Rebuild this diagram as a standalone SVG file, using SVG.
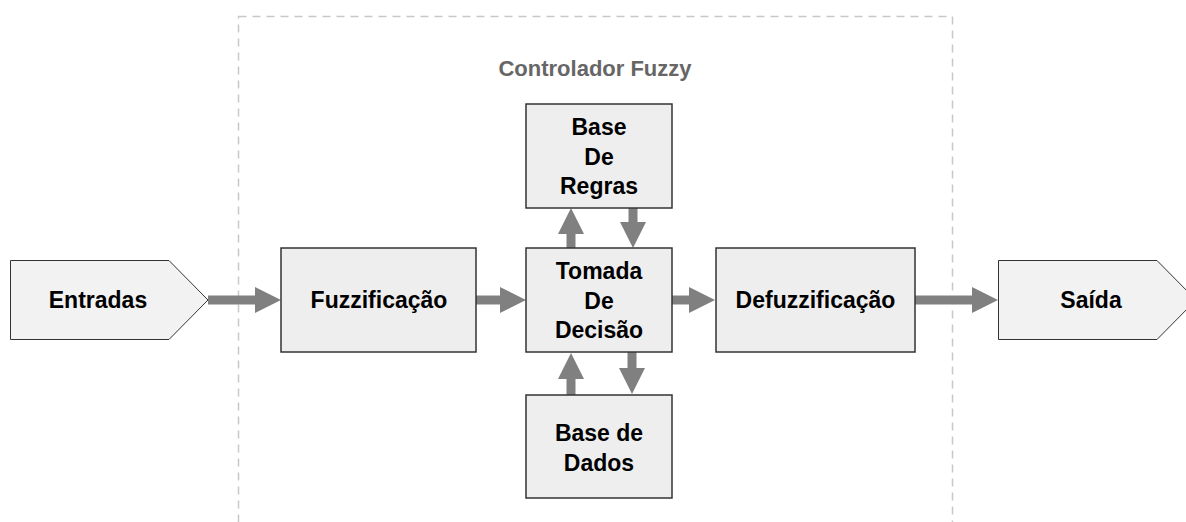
<svg xmlns="http://www.w3.org/2000/svg" width="1186" height="522" viewBox="0 0 1186 522">
  <style>
    .box { fill: #eeeeee; stroke: #333333; stroke-width: 1.5; }
    .io { fill: #f2f2f2; stroke: #333333; stroke-width: 1; }
    .label { font-family: "Liberation Sans", Arial, sans-serif; font-size: 23px; font-weight: bold; fill: #000000; text-anchor: middle; }
    .title { font-family: "Liberation Sans", Arial, sans-serif; font-size: 22px; font-weight: bold; fill: #666666; text-anchor: middle; }
    .frame { fill: none; stroke: #c8c8c8; stroke-width: 1.5; stroke-dasharray: 8 6; }
    .flow { stroke: #808080; stroke-width: 9; fill: none; }
    .head { fill: #808080; }
  </style>

  <!-- controller boundary -->
  <g id="controlador">
    <rect class="frame" x="238.5" y="16.5" width="714" height="540"/>
    <text class="title" x="595" y="76">Controlador Fuzzy</text>
  </g>

  <!-- connectors -->
  <g id="connectors">
    <!-- Entradas -> Fuzzificação -->
    <line class="flow" x1="208" y1="300" x2="257" y2="300"/>
    <polygon class="head" points="255,287 281,300 255,313"/>
    <!-- Fuzzificação -> Tomada de Decisão -->
    <line class="flow" x1="476" y1="300" x2="502" y2="300"/>
    <polygon class="head" points="500,287 526,300 500,313"/>
    <!-- Tomada de Decisão -> Defuzzificação -->
    <line class="flow" x1="672" y1="300" x2="691" y2="300"/>
    <polygon class="head" points="689,287 715,300 689,313"/>
    <!-- Defuzzificação -> Saída -->
    <line class="flow" x1="915" y1="300" x2="974" y2="300"/>
    <polygon class="head" points="972,287 998,300 972,313"/>
    <!-- Tomada -> Base de Regras -->
    <line class="flow" x1="571" y1="248" x2="571" y2="232"/>
    <polygon class="head" points="558,234 571,208 584,234"/>
    <!-- Base de Regras -> Tomada -->
    <line class="flow" x1="633" y1="208" x2="633" y2="224"/>
    <polygon class="head" points="620,222 633,248 646,222"/>
    <!-- Base de Dados -> Tomada -->
    <line class="flow" x1="571" y1="395" x2="571" y2="377"/>
    <polygon class="head" points="558,379 571,353 584,379"/>
    <!-- Tomada -> Base de Dados -->
    <line class="flow" x1="632" y1="352" x2="632" y2="370"/>
    <polygon class="head" points="619,368 632,394 645,368"/>
  </g>

  <g id="entradas">
    <polygon class="io" points="10.5,260.5 169,260.5 208,300 169,339.5 10.5,339.5"/>
    <text class="label" x="98" y="308">Entradas</text>
  </g>

  <g id="fuzzificacao">
    <rect class="box" x="281" y="248" width="195" height="104"/>
    <text class="label" x="379" y="308">Fuzzificação</text>
  </g>

  <g id="base-regras">
    <rect class="box" x="526" y="104" width="146" height="104"/>
    <text class="label" x="599" y="135">Base</text>
    <text class="label" x="599" y="164.5">De</text>
    <text class="label" x="599" y="194">Regras</text>
  </g>

  <g id="tomada-decisao">
    <rect class="box" x="526" y="248" width="146" height="104"/>
    <text class="label" x="599" y="279">Tomada</text>
    <text class="label" x="599" y="308.5">De</text>
    <text class="label" x="599" y="338">Decisão</text>
  </g>

  <g id="base-dados">
    <rect class="box" x="526" y="395" width="146" height="103"/>
    <text class="label" x="599" y="441">Base de</text>
    <text class="label" x="599" y="471">Dados</text>
  </g>

  <g id="defuzzificacao">
    <rect class="box" x="716" y="248" width="199" height="104"/>
    <text class="label" x="815.5" y="308">Defuzzificação</text>
  </g>

  <g id="saida">
    <polygon class="io" points="998.5,260.5 1157,260.5 1196,300 1157,339.5 998.5,339.5"/>
    <text class="label" x="1091" y="308">Saída</text>
  </g>
</svg>
